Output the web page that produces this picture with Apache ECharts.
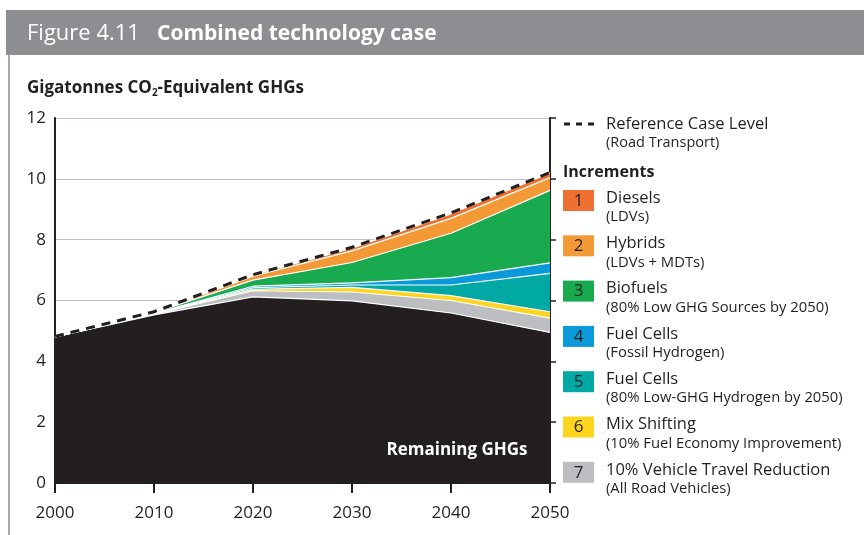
<!DOCTYPE html>
<html>
<head>
<meta charset="utf-8">
<script src="https://cdn.jsdelivr.net/npm/echarts@6/dist/echarts.min.js"></script>
<style>
  html, body { margin: 0; padding: 0; background: #ffffff; }
  #chart { width: 864px; height: 535px; }
</style>
</head>
<body>
<div id="chart"></div>
<script>
// Years on the horizontal axis
const years = ['2000', '2010', '2020', '2030', '2040', '2050'];

// Stacked layers, bottom to top (Gt CO2-eq)
const remaining        = [4.80, 5.53, 6.12, 5.99, 5.59, 4.95];
const travelReduction  = [0.00, 0.02, 0.20, 0.29, 0.41, 0.47];
const mixShifting      = [0.00, 0.01, 0.05, 0.15, 0.16, 0.21];
const fuelCellsLowGhg  = [0.00, 0.01, 0.05, 0.08, 0.35, 1.26];
const fuelCellsFossil  = [0.00, 0.01, 0.05, 0.07, 0.24, 0.35];
const biofuels         = [0.00, 0.02, 0.20, 0.67, 1.46, 2.38];
const hybrids          = [0.00, 0.01, 0.13, 0.38, 0.49, 0.42];
const diesels          = [0.00, 0.01, 0.04, 0.09, 0.15, 0.15];

// Reference case level (road transport)
const referenceCase    = [4.82, 5.63, 6.85, 7.75, 8.88, 10.21];

// Axis ticks
const yTicks = [0, 2, 4, 6, 8, 10, 12];

// Legend texts, in legend order (1..7)
const incrementNames = ['Diesels', 'Hybrids', 'Biofuels', 'Fuel Cells', 'Fuel Cells', 'Mix Shifting', '10% Vehicle Travel Reduction'];
const incrementNotes = ['(LDVs)', '(LDVs + MDTs)', '(80% Low GHG Sources by 2050)', '(Fossil Hydrogen)', '(80% Low-GHG Hydrogen by 2050)', '(10% Fuel Economy Improvement)', '(All Road Vehicles)'];

const FONT = '"Open Sans", "Noto Sans", sans-serif';
const INK = '#231f20';
const colors = {
  remaining: '#231f20',
  travel: '#bcbec2',
  mix: '#fdd51e',
  fcLow: '#00a9a4',
  fcFossil: '#0a9ad9',
  bio: '#19aa50',
  hybrid: '#f39a37',
  diesel: '#ef7132'
};
const legendColors = [colors.diesel, colors.hybrid, colors.bio, colors.fcFossil, colors.fcLow, colors.mix, colors.travel];

function layer(name, arr, color) {
  return {
    name: name,
    type: 'line',
    stack: 'ghg',
    data: arr,
    symbol: 'none',
    smooth: false,
    lineStyle: { color: '#ffffff', width: 1.2 },
    areaStyle: { color: color, opacity: 1 },
    itemStyle: { color: color },
    z: 2
  };
}

const graphics = [];
// Title band
graphics.push({ type: 'rect', shape: { x: 6, y: 10, width: 858, height: 45 }, style: { fill: '#8d8e92' }, z: 10 });
graphics.push({ type: 'text', x: 27, y: 34, z: 11, style: { text: 'Figure 4.11', font: '22px ' + FONT, fill: '#ffffff', verticalAlign: 'middle' } });
graphics.push({ type: 'text', x: 157, y: 34, z: 11, style: { text: 'Combined technology case', font: 'bold 21px ' + FONT, fill: '#ffffff', verticalAlign: 'middle' } });
// Left frame rule
graphics.push({ type: 'rect', shape: { x: 8, y: 55, width: 2, height: 480 }, style: { fill: '#a8aaad' }, z: 10 });
// Axis caption with subscript
graphics.push({
  type: 'text', x: 27, y: 88, z: 11,
  style: {
    text: '{b|Gigatonnes CO}{s|2}{b|-Equivalent GHGs}',
    verticalAlign: 'middle',
    rich: {
      b: { fontFamily: FONT, fontSize: 17, fontWeight: 'bold', fill: INK, color: INK, lineHeight: 22, verticalAlign: 'middle' },
      s: { fontFamily: FONT, fontSize: 10, fontWeight: 'bold', fill: INK, color: INK, lineHeight: 22, padding: [10, 0, 0, 0], verticalAlign: 'middle' }
    }
  }
});
// Reference case legend
graphics.push({ type: 'line', shape: { x1: 564, y1: 124, x2: 596, y2: 124 }, style: { stroke: INK, lineWidth: 3, lineDash: [6, 6] }, z: 11 });
graphics.push({ type: 'text', x: 606, y: 124, z: 11, style: { text: 'Reference Case Level', font: '16.5px ' + FONT, fill: INK, verticalAlign: 'middle' } });
graphics.push({ type: 'text', x: 606, y: 143, z: 11, style: { text: '(Road Transport)', font: '14.5px ' + FONT, fill: INK, verticalAlign: 'middle' } });
graphics.push({ type: 'text', x: 563, y: 172, z: 11, style: { text: 'Increments', font: 'bold 16px ' + FONT, fill: INK, verticalAlign: 'middle' } });

incrementNames.forEach((name, i) => {
  const top = 190 + i * 45.3;
  graphics.push({ type: 'rect', shape: { x: 563, y: top, width: 31, height: 21 }, style: { fill: legendColors[i] }, z: 11 });
  graphics.push({ type: 'text', x: 578.5, y: top + 11, z: 12, style: { text: String(i + 1), font: '17px ' + FONT, fill: INK, align: 'center', verticalAlign: 'middle' } });
  graphics.push({ type: 'text', x: 606, y: top + 8, z: 11, style: { text: name, font: '16.5px ' + FONT, fill: INK, verticalAlign: 'middle' } });
  graphics.push({ type: 'text', x: 606, y: top + 27, z: 11, style: { text: incrementNotes[i], font: '14.8px ' + FONT, fill: INK, verticalAlign: 'middle' } });
});

// Label inside the base layer
graphics.push({ type: 'text', x: 457, y: 450, z: 12, style: { text: 'Remaining GHGs', font: 'bold 17px ' + FONT, fill: '#ffffff', align: 'center', verticalAlign: 'middle' } });

const chart = echarts.init(document.getElementById('chart'), null, { renderer: 'canvas' });
chart.setOption({
  animation: false,
  backgroundColor: '#ffffff',
  grid: { left: 55, right: 314, top: 118, bottom: 52 },
  xAxis: {
    type: 'category', data: years, boundaryGap: false,
    axisLine: { show: true, onZero: false, lineStyle: { color: INK, width: 2 } },
    axisTick: { show: true, length: 10, lineStyle: { color: INK, width: 2 } },
    axisLabel: { fontFamily: FONT, fontSize: 17, color: INK, margin: 22 },
    splitLine: { show: false }
  },
  yAxis: [
    {
      type: 'value', position: 'left', min: yTicks[0], max: yTicks[yTicks.length - 1], interval: 2,
      axisLine: { show: true, lineStyle: { color: INK, width: 2 } },
      axisTick: { show: false },
      axisLabel: { fontFamily: FONT, fontSize: 17, color: INK, margin: 9 },
      splitLine: { show: true, lineStyle: { color: '#bcc5cf', width: 1 } }
    },
    {
      type: 'value', position: 'right', min: yTicks[0], max: yTicks[yTicks.length - 1], interval: 2,
      axisLine: { show: true, lineStyle: { color: INK, width: 2 } },
      axisTick: { show: true, inside: false, length: 6, lineStyle: { color: INK, width: 1.5 } },
      axisLabel: { show: false },
      splitLine: { show: false }
    }
  ],
  series: [
    layer('Remaining GHGs', remaining, colors.remaining),
    layer('10% Vehicle Travel Reduction', travelReduction, colors.travel),
    layer('Mix Shifting', mixShifting, colors.mix),
    layer('Fuel Cells (80% Low-GHG Hydrogen)', fuelCellsLowGhg, colors.fcLow),
    layer('Fuel Cells (Fossil Hydrogen)', fuelCellsFossil, colors.fcFossil),
    layer('Biofuels', biofuels, colors.bio),
    layer('Hybrids', hybrids, colors.hybrid),
    layer('Diesels', diesels, colors.diesel),
    {
      name: 'Reference Case Level',
      type: 'line',
      data: referenceCase,
      symbol: 'none',
      lineStyle: { color: INK, width: 3, type: [9, 7] },
      z: 5
    }
  ],
  graphic: graphics
});
</script>
</body>
</html>
